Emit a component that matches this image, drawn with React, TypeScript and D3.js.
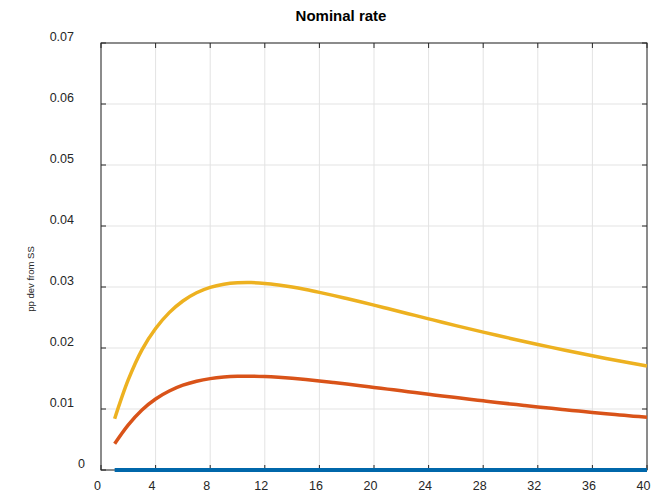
import React from "react";
import * as d3 from "d3";

const periods = d3.range(1, 41);
const yellowSeries = [
  0.0084, 0.0148, 0.0197, 0.0232, 0.0258, 0.0277, 0.02905, 0.02993, 0.03044, 0.03068,
  0.03072, 0.03058, 0.03032, 0.02999, 0.02958, 0.02912, 0.02863, 0.02811, 0.02758, 0.02703,
  0.02647, 0.02591, 0.02534, 0.02478, 0.02422, 0.02367, 0.02313, 0.0226, 0.02208, 0.02157,
  0.02107, 0.02058, 0.0201, 0.01963, 0.01917, 0.01872, 0.01829, 0.01787, 0.01746, 0.01706,
];
const orangeSeries = [
  0.0043, 0.0074, 0.00985, 0.01165, 0.01295, 0.0139, 0.01455, 0.01498, 0.01523, 0.01535,
  0.01537, 0.01531, 0.01519, 0.01503, 0.01483, 0.0146, 0.01435, 0.01409, 0.01382, 0.01354,
  0.01326, 0.01298, 0.0127, 0.01242, 0.01214, 0.01187, 0.0116, 0.01134, 0.01108, 0.01083,
  0.01058, 0.01034, 0.01011, 0.00988, 0.00966, 0.00944, 0.00923, 0.00903, 0.00883, 0.00864,
];
const blueSeries = periods.map(() => 0);
const xTicks = [0, 4, 8, 12, 16, 20, 24, 28, 32, 36, 40];
const yTicks = [0, 0.01, 0.02, 0.03, 0.04, 0.05, 0.06, 0.07];
const yTickLabels = ["0", "0.01", "0.02", "0.03", "0.04", "0.05", "0.06", "0.07"];

const W = 667;
const H = 496;
const L = 101, R = 647, T = 43, B = 470;
const FONT = "'Liberation Sans', Arial, Helvetica, sans-serif";
const AX = "#262626";

export default function App() {
  const x = d3.scaleLinear().domain([0, 40]).range([L, R]);
  const y = d3.scaleLinear().domain([0, 0.07]).range([B, T]);
  const line = d3
    .line<number>()
    .x((_, i) => x(periods[i]))
    .y((d) => y(d))
    .curve(d3.curveCatmullRom);
  const series = [
    { data: orangeSeries, color: "#D95319", w: 3.5 },
    { data: yellowSeries, color: "#EDB120", w: 3.5 },
  ];
  return (
    <svg
      width={W}
      height={H}
      style={{ position: "absolute", left: 0, top: 0, background: "#fff" }}
      fontFamily={FONT}
    >
      <rect x={0} y={0} width={W} height={H} fill="#fff" />
      {xTicks.map((t) => (
        <line key={"gx" + t} x1={x(t)} x2={x(t)} y1={T} y2={B} stroke="#e3e3e3" strokeWidth={1} />
      ))}
      {yTicks.map((t) => (
        <line key={"gy" + t} x1={L} x2={R} y1={y(t)} y2={y(t)} stroke="#e3e3e3" strokeWidth={1} />
      ))}
      <rect x={L} y={T} width={R - L} height={B - T} fill="none" stroke={AX} strokeWidth={1} />
      {xTicks.map((t) => (
        <g key={"tx" + t}>
          <line x1={x(t)} x2={x(t)} y1={B} y2={B - 5} stroke={AX} />
          <line x1={x(t)} x2={x(t)} y1={T} y2={T + 5} stroke={AX} />
          <text x={x(t) - 3.5} y={490} textAnchor="middle" fontSize={12.5} fill={AX}>
            {t}
          </text>
        </g>
      ))}
      {yTicks.map((t, i) => (
        <g key={"ty" + t}>
          <line x1={L} x2={L + 5} y1={y(t)} y2={y(t)} stroke={AX} />
          <line x1={R} x2={R - 5} y1={y(t)} y2={y(t)} stroke={AX} />
          <text x={t === 0 ? 85 : 74} y={y(t) - 2} textAnchor="end" fontSize={12.5} fill={AX}>
            {yTickLabels[i]}
          </text>
        </g>
      ))}
      <path d={line(blueSeries) || ""} fill="none" stroke="#0067AA" strokeWidth={4} />
      {series.map((s, i) => (
        <path
          key={"s" + i}
          d={line(s.data) || ""}
          fill="none"
          stroke={s.color}
          strokeWidth={s.w}
          strokeLinejoin="round"
        />
      ))}
      <text x={341} y={21} textAnchor="middle" fontSize={15} fontWeight="bold" fill="#000">
        Nominal rate
      </text>
      <text transform={`translate(34,279) rotate(-90)`} textAnchor="middle" fontSize={9.5} fill={AX}>
        pp dev from SS
      </text>
    </svg>
  );
}
